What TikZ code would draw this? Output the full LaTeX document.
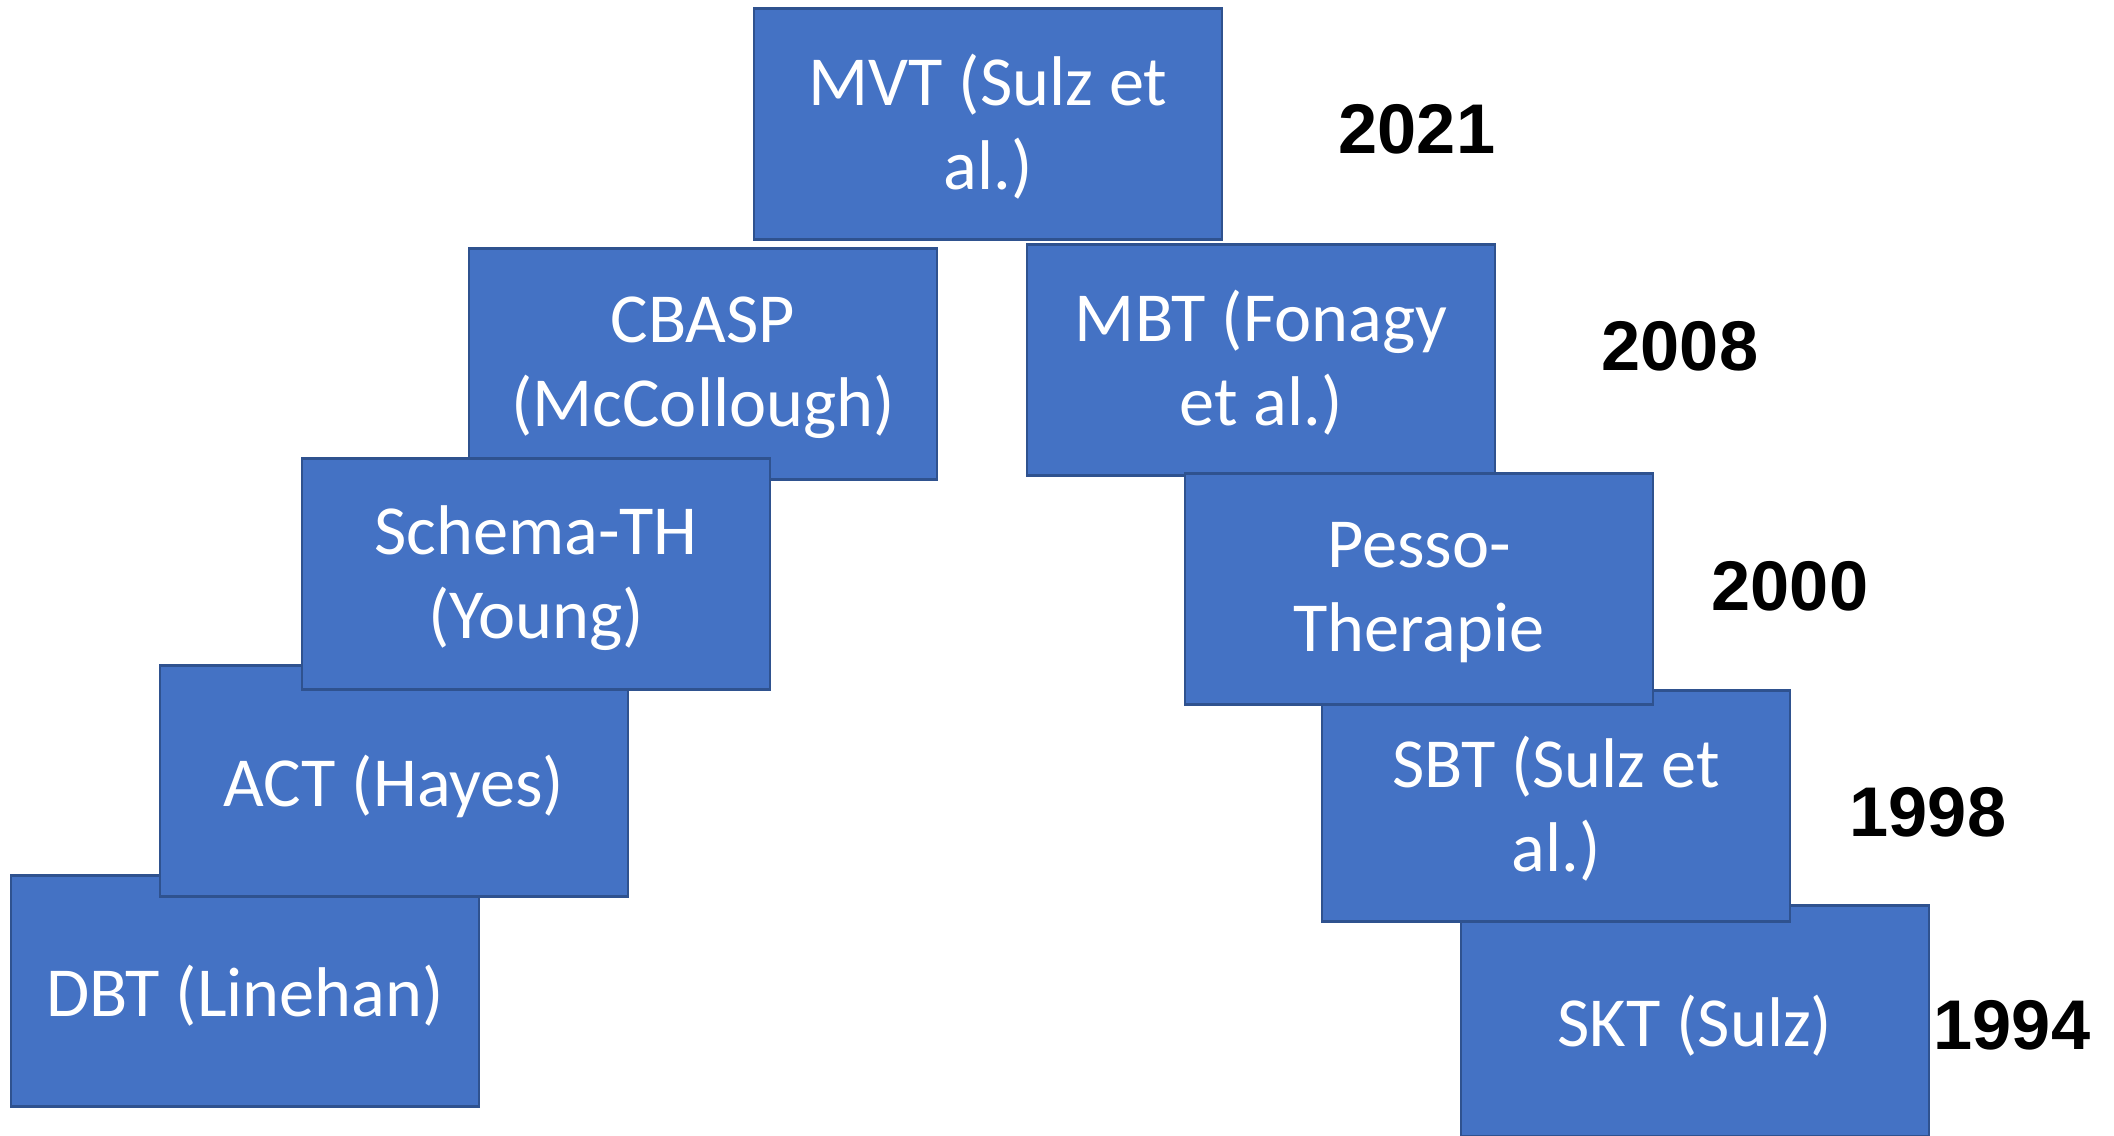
\documentclass[tikz,border=0pt]{standalone}
\usepackage{fontspec}
\setmainfont{Carlito}
\newfontfamily\yearfont{Liberation Sans}
\definecolor{boxblue}{HTML}{4472C4}
\definecolor{boxline}{HTML}{2F528F}
\begin{document}
\begin{tikzpicture}[x=0.01cm,y=-0.01cm,
		method/.style={draw=boxline,line width=0.75pt,fill=boxblue,text=white,minimum width=4.68cm,minimum height=2.31cm,inner sep=0pt,align=center,font=\fontsize{20}{23.8}\selectfont,
			execute at begin node={\rule{0pt}{19.6pt}},execute at end node={\rule[-5pt]{0pt}{0pt}}},
		twolines/.style={method,text depth=1.2pt},
		year/.style={font=\yearfont\bfseries\fontsize{20}{24}\selectfont}]
				\useasboundingbox (0,0) rectangle (2114,1135);
				% left branch
				\node[method] (dbt) at (245,991) {DBT (Linehan)};
				\node[method] (act) at (394,781) {ACT (Hayes)};
				\node[twolines] (cbasp) at (703,364) {CBASP\\(McCollough)};
				\node[twolines] (schema) at (536,574) {Schema-TH\\(Young)};
				% right branch
				\node[method] (skt) at (1695,1021) {SKT (Sulz)};
				\node[twolines] (sbt) at (1556,806) {SBT (Sulz et\\al.)};
				\node[twolines] (mbt) at (1261,360) {MBT (Fonagy\\et al.)};
				\node[twolines] (pesso) at (1419,589) {Pesso-\\Therapie};
				\node[twolines] (mvt) at (988,124) {MVT (Sulz et\\al.)};
				% years
				\node[year] (y2021) at (1417,129) {2021};
				\node[year] (y2008) at (1680,346) {2008};
				\node[year] (y2000) at (1790,586) {2000};
				\node[year] (y1998) at (1928,812) {1998};
				\node[year] (y1994) at (2012,1025) {1994};
			\end{tikzpicture}
\end{document}
